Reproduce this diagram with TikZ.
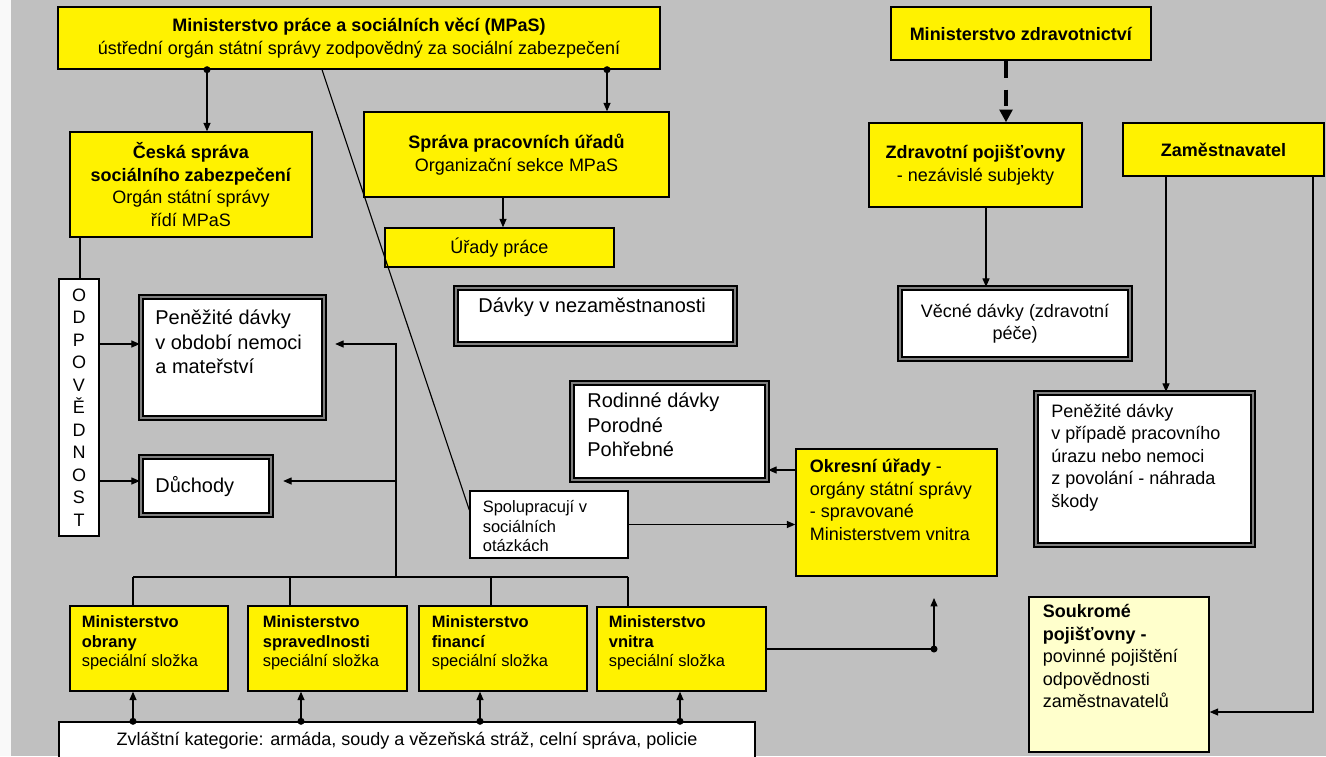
\documentclass[tikz,border=0pt]{standalone}
\usepackage{fontspec}
\setmainfont{Liberation Sans}
\usetikzlibrary{arrows.meta}
\definecolor{bg}{RGB}{192,192,192}
\definecolor{pale}{RGB}{255,255,204}
\begin{document}
\begin{tikzpicture}[x=0.025cm,y=-0.025cm,->,>={Triangle[length=6pt,width=5pt]},line width=0.8pt,
    sz/.style 2 args={minimum width=#1*0.025cm,minimum height=#2*0.025cm,inner sep=0pt},
    ybox/.style={draw,fill=yellow,line width=1pt,align=center},
    wbox/.style={draw,fill=white,line width=1pt,align=center},
    ben/.style={draw,fill=white,line width=1.7pt,double=gray,double distance=0.9pt,align=center},
    n18/.style={font=\fontsize{12.8}{16}\selectfont},
    n20/.style={font=\fontsize{14.2}{17.4}\selectfont},
    n16/.style={font=\fontsize{11.7}{14}\selectfont},
    txt/.style={inner sep=0pt,align=left,anchor=base west}]
            \useasboundingbox (0,0) rectangle (1326,756);
            \clip (0,0) rectangle (1326,756);
            \fill[white!90!bg] (0,0) rectangle (11,756);
            \fill[bg] (11,0) rectangle (1326,756);
            \node[ybox,n18,sz={602}{62}] (mpas) at (359,38) {\textbf{Ministerstvo práce a sociálních věcí (MPaS)}\\ústřední orgán státní správy zodpovědný za sociální zabezpečení};
            \node[ybox,n18,sz={260}{53}] (mzd) at (1021,33.5) {\textbf{Ministerstvo zdravotnictví}};
            \node[ybox,n18,sz={242}{105}] (csz) at (191,184.5) {\textbf{Česká správa}\\\textbf{sociálního zabezpečení}\\Orgán státní správy\\řídí MPaS};
            \node[ybox,n18,sz={305}{85}] (spu) at (516.5,154.5) {\textbf{Správa pracovních úřadů}\\Organizační sekce MPaS};
            \node[ybox,n18,sz={229}{39}] (up) at (499.5,247.5) {Úřady práce};
            \node[ybox,n18,sz={213}{84}] (zp) at (975.5,165) {\textbf{Zdravotní pojišťovny}\\- nezávislé subjekty};
            \node[ybox,n18,sz={201}{53}] (zam) at (1223.5,149.5) {\textbf{Zaměstnavatel}};
            \node[wbox,n18,sz={40}{257}] (odp) at (79,407.5) {O\\D\\P\\O\\V\\Ě\\D\\N\\O\\S\\T};
            \node[ben,sz={183}{121}] (pdl) at (232.5,357.5) {};
            \node[txt,n20] (pdlt) at ([shift={(15,78)}]pdl.north west) {Peněžité dávky\\v období nemoci\\a mateřství};
            \node[ben,sz={130}{58}] (duch) at (206,486) {};
            \node[txt,n20] (ducht) at ([shift={(15,37)}]duch.north west) {Důchody};
            \node[ben,sz={279}{56}] (dnez) at (595.5,316) {};
            \node[txt,n20] (dnezt) at ([shift={(23,26)}]dnez.north west) {Dávky v nezaměstnanosti};
            \node[ben,sz={195}{97}] (rod) at (669.5,431.5) {};
            \node[txt,n20] (rodt) at ([shift={(16,75)}]rod.north west) {Rodinné dávky\\Porodné\\Pohřebné};
            \node[ben,n18,sz={230}{71}] (vec) at (1015,323.5) {Věcné dávky (zdravotní\\péče)};
            \node[ben,sz={217}{152}] (pdr) at (1144.5,469) {};
            \node[txt,n18] (pdrt) at ([shift={(16,115.5)}]pdr.north west) {Peněžité dávky\\v případě pracovního\\úrazu nebo nemoci\\z povolání - náhrada\\škody};
            \node[wbox,sz={158}{67}] (spol) at (549,524.5) {};
            \node[txt,n16] (spolt) at ([shift={(13,61.5)}]spol.north west) {Spolupracují v\\sociálních\\otázkách};
            \node[ybox,sz={201}{127}] (okr) at (896.5,512.5) {};
            \node[txt,n18] (okrt) at ([shift={(14,92)}]okr.north west) {\textbf{Okresní úřady} -\\orgány státní správy\\- spravované\\Ministerstvem vnitra};
            \node[ybox,sz={158}{85}] (mo) at (149,648.5) {};
            \node[txt,n16] (mot) at ([shift={(12,61.5)}]mo.north west) {\textbf{Ministerstvo}\\\textbf{obrany}\\speciální složka};
            \node[ybox,sz={159}{85}] (ms) at (327.5,648.5) {};
            \node[txt,n16] (mst) at ([shift={(15,61.5)}]ms.north west) {\textbf{Ministerstvo}\\\textbf{spravedlnosti}\\speciální složka};
            \node[ybox,sz={168}{85}] (mf) at (503,648.5) {};
            \node[txt,n16] (mft) at ([shift={(13,61.5)}]mf.north west) {\textbf{Ministerstvo}\\\textbf{financí}\\speciální složka};
            \node[ybox,sz={169}{84}] (mv) at (681.5,649) {};
            \node[txt,n16] (mvt) at ([shift={(12,60.5)}]mv.north west) {\textbf{Ministerstvo}\\\textbf{vnitra}\\speciální složka};
            \node[wbox,n18,sz={696}{38}] (zvl) at (407,741) {Zvláštní kategorie: armáda, soudy a vězeňská stráž, celní správa, policie};
            \node[draw,fill=pale,line width=1pt,sz={180}{155}] (souk) at (1119,674.5) {};
            \node[txt,n18] (soukt) at ([shift={(14,111.5)}]souk.north west) {\textbf{Soukromé}\\\textbf{pojišťovny -}\\povinné pojištění\\odpovědnosti\\zaměstnavatelů};
            \coordinate (busL) at (133,577);
            \coordinate (busM) at (396,577);
            \coordinate (busR) at (628,577);
            \coordinate (okrin) at (934,598);
            \draw (mpas.south -| 207,0) -- (csz.north -| 207,0);
            \draw (mpas.south -| 607,0) -- (spu.north -| 607,0);
            \draw (spu.south -| 503,0) -- (up.north -| 503,0);
            \draw[-] (mpas.south -| 322,0) -- ([shift={(0,-14.5)}]spol.west);
            \draw[-] (csz.south -| 80,0) -- (odp.north -| 80,0);
            \draw (odp.east |- 0,344) -- (pdl.west |- 0,344);
            \draw (odp.east |- 0,481) -- (duch.west |- 0,481);
            \draw[-] (busL) -- (busR);
            \draw (busM) |- ([shift={(10,-13.5)}]pdl.east);
            \draw (busM) |- ([shift={(11,-5)}]duch.east);
            \draw[-] (busL) -- (busL |- mo.north);
            \draw[-] (busL -| 290,0) -- (ms.north -| 290,0);
            \draw[-] (busL -| 491,0) -- (mf.north -| 491,0);
            \draw[-] (busR) -- (busR |- mv.north);
            \draw (zvl.north -| 133,0) -- (mo.south -| 133,0);
            \draw (zvl.north -| 301,0) -- (ms.south -| 301,0);
            \draw (zvl.north -| 480,0) -- (mf.south -| 480,0);
            \draw (zvl.north -| 680,0) -- (mv.south -| 680,0);
            \draw (spol.east) -- (spol.east -| okr.west);
            \draw (okr.west |- 0,470) -- (rod.east |- 0,470);
            \draw (mv.east |- 0,649) -| (okrin);
            \draw (zp.south -| 986,0) -- (vec.north -| 986,0);
            \draw[line width=2.5pt,dash pattern=on 12pt off 8.5pt,>={Triangle[length=9pt,width=9pt]}] (mzd.south -| 1006,0) -- (zp.north -| 1006,0);
            \draw (zam.south -| 1166,0) -- (pdr.north -| 1166,0);
            \draw (zam.south -| 1313,0) |- (souk.east |- 0,712);
            \fill (mpas.south -| 207,0) circle (2.5pt);
            \fill (mpas.south -| 607,0) circle (2.5pt);
            \fill (okrin |- 0,649) circle (2.5pt);
            \fill (zvl.north -| 133,0) circle (2.5pt);
            \fill (zvl.north -| 301,0) circle (2.5pt);
            \fill (zvl.north -| 480,0) circle (2.5pt);
            \fill (zvl.north -| 680,0) circle (2.5pt);
        \end{tikzpicture}
\end{document}
